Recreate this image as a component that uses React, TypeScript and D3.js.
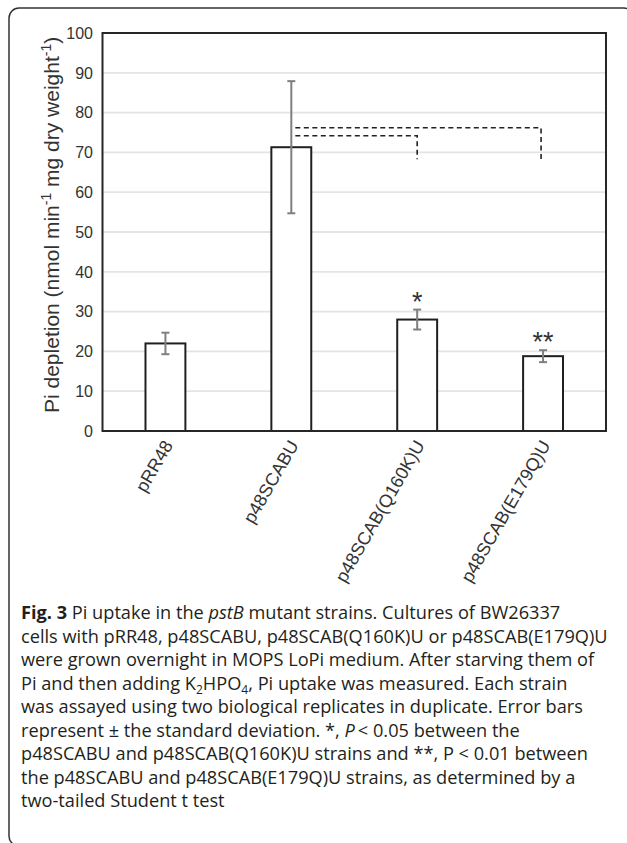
import React from "react";
import * as d3 from "d3";

const categories = ["pRR48", "p48SCABU", "p48SCAB(Q160K)U", "p48SCAB(E179Q)U"];
const means = [22.0, 71.3, 28.0, 18.8];
const sds = [2.7, 16.6, 2.5, 1.5];
const sigMarks = ["", "", "*", "**"];
const yTicks = [0, 10, 20, 30, 40, 50, 60, 70, 80, 90, 100];
const bracketFrom = [1, 1];
const bracketTo = [2, 3];
const bracketLevels = [74.2, 76.2];
const bracketDrop = 68.3;

const CHART_FONT = "'Liberation Sans', Arial, sans-serif";
const CAPTION_FONT = "'Open Sans', 'Noto Sans', sans-serif";

export default function App() {
  const W = 627;
  const H = 843;
  const plot = { left: 102.5, right: 606, top: 33, bottom: 431 };

  const x = d3
    .scaleBand<string>()
    .domain(categories)
    .range([plot.left, plot.right])
    .paddingInner(0.683)
    .paddingOuter(0.3415);
  const y = d3.scaleLinear().domain([0, 100]).range([plot.bottom, plot.top]);
  const cx = (i: number) => (x(categories[i]) as number) + x.bandwidth() / 2;

  const capHalf = 4;
  const capFs = 18.2;
  const lh = 23.5;
  const cap0 = 619;

  const sup = (t: string, key: string) => (
    <tspan key={key} fontSize={14} dy={-8}>
      {t}
    </tspan>
  );

  return (
    <svg
      width={W}
      height={H}
      viewBox={`0 0 ${W} ${H}`}
      style={{ position: "absolute", left: 0, top: 0, background: "#fff" }}
    >
      <rect x={0} y={0} width={W} height={H} fill="#fff" />
      {/* outer frame */}
      <rect x={9} y={8} width={625} height={838} rx={10} ry={10} fill="none" stroke="#333" strokeWidth={1.5} />

      {/* gridlines */}
      {yTicks.slice(1, -1).map((t) => (
        <line key={"g" + t} x1={plot.left} x2={plot.right} y1={y(t)} y2={y(t)} stroke="#e4e4e4" strokeWidth={1.8} />
      ))}

      {/* y tick labels */}
      {yTicks.map((t) => (
        <text
          key={"yt" + t}
          x={93}
          y={y(t)}
          dy="0.36em"
          textAnchor="end"
          fontFamily={CHART_FONT}
          fontSize={16}
          fill="#333"
        >
          {t}
        </text>
      ))}

      {/* y axis title */}
      <text
        transform={`translate(59,413) rotate(-90)`}
        fontFamily={CHART_FONT}
        fontSize={21}
        fill="#333"
      >
        <tspan>Pi depletion (nmol min</tspan>
        {sup("-1", "s1")}
        <tspan dy={8}> mg dry weight</tspan>
        {sup("-1", "s2")}
        <tspan dy={8}>)</tspan>
      </text>

      {/* bars */}
      {categories.map((c, i) => (
        <rect
          key={"b" + c}
          x={x(c)}
          y={y(means[i])}
          width={x.bandwidth()}
          height={y(0) - y(means[i])}
          fill="#fff"
          stroke="#1f1f1f"
          strokeWidth={2}
        />
      ))}

      {/* plot frame */}
      <rect
        x={plot.left}
        y={plot.top}
        width={plot.right - plot.left}
        height={plot.bottom - plot.top}
        fill="none"
        stroke="#262626"
        strokeWidth={2}
      />

      {/* error bars */}
      {categories.map((c, i) => {
        const xc = cx(i);
        const hi = y(means[i] + sds[i]);
        const lo = y(means[i] - sds[i]);
        return (
          <g key={"e" + c} stroke="#7f7f7f" strokeWidth={2}>
            <line x1={xc} x2={xc} y1={hi} y2={lo} />
            <line x1={xc - capHalf} x2={xc + capHalf} y1={hi} y2={hi} />
            <line x1={xc - capHalf} x2={xc + capHalf} y1={lo} y2={lo} />
          </g>
        );
      })}

      {/* significance brackets */}
      {bracketFrom.map((f, k) => {
        const x0 = cx(f) + 4;
        const x1 = cx(bracketTo[k]) - (bracketTo[k] === 3 ? 2 : 0);
        const yl = y(bracketLevels[k]);
        const yd = y(bracketDrop);
        return (
          <path
            key={"br" + k}
            d={`M${x0},${yl}H${x1}V${yd}`}
            fill="none"
            stroke="#222"
            strokeWidth={1.6}
            strokeDasharray="5,3.5"
          />
        );
      })}

      {/* asterisks */}
      {categories.map((c, i) =>
        sigMarks[i] ? (
          <text
            key={"s" + c}
            x={cx(i)}
            y={y(means[i] + sds[i]) + 1}
            textAnchor="middle"
            fontFamily={CHART_FONT}
            fontSize={27}
            fill="#333"
          >
            {sigMarks[i]}
          </text>
        ) : null
      )}

      {/* x labels */}
      {categories.map((c, i) => (
        <text
          key={"xl" + c}
          transform={`translate(${cx(i) + 8},${plot.bottom + 14}) rotate(-60)`}
          textAnchor="end"
          fontFamily={CHART_FONT}
          fontSize={18}
          fill="#333"
        >
          {c}
        </text>
      ))}

      {/* caption */}
      <g fontFamily={CAPTION_FONT} fontSize={capFs} fill="#231f20">
        <text x={21} y={cap0}>
          <tspan fontWeight="bold">Fig. 3</tspan>
          <tspan> Pi uptake in the </tspan>
          <tspan fontStyle="italic">pstB</tspan>
          <tspan> mutant strains. Cultures of BW26337</tspan>
        </text>
        <text x={21} y={cap0 + lh}>
          cells with pRR48, p48SCABU, p48SCAB(Q160K)U or p48SCAB(E179Q)U
        </text>
        <text x={21} y={cap0 + lh * 2}>
          were grown overnight in MOPS LoPi medium. After starving them of
        </text>
        <text x={21} y={cap0 + lh * 3}>
          <tspan>Pi and then adding K</tspan>
          <tspan fontSize={12} baselineShift="-4">2</tspan>
          <tspan>HPO</tspan>
          <tspan fontSize={12} baselineShift="-4">4</tspan>
          <tspan>, Pi uptake was measured. Each strain</tspan>
        </text>
        <text x={21} y={cap0 + lh * 4}>
          was assayed using two biological replicates in duplicate. Error bars
        </text>
        <text x={21} y={cap0 + lh * 5}>
          <tspan>represent ± the standard deviation. *, </tspan>
          <tspan fontStyle="italic">P</tspan>
          <tspan>{"\u2009< 0.05 between the"}</tspan>
        </text>
        <text x={21} y={cap0 + lh * 6}>
          p48SCABU and p48SCAB(Q160K)U strains and **, P {"<"} 0.01 between
        </text>
        <text x={21} y={cap0 + lh * 7}>
          the p48SCABU and p48SCAB(E179Q)U strains, as determined by a
        </text>
        <text x={21} y={cap0 + lh * 8}>
          two-tailed Student t test
        </text>
      </g>
    </svg>
  );
}
